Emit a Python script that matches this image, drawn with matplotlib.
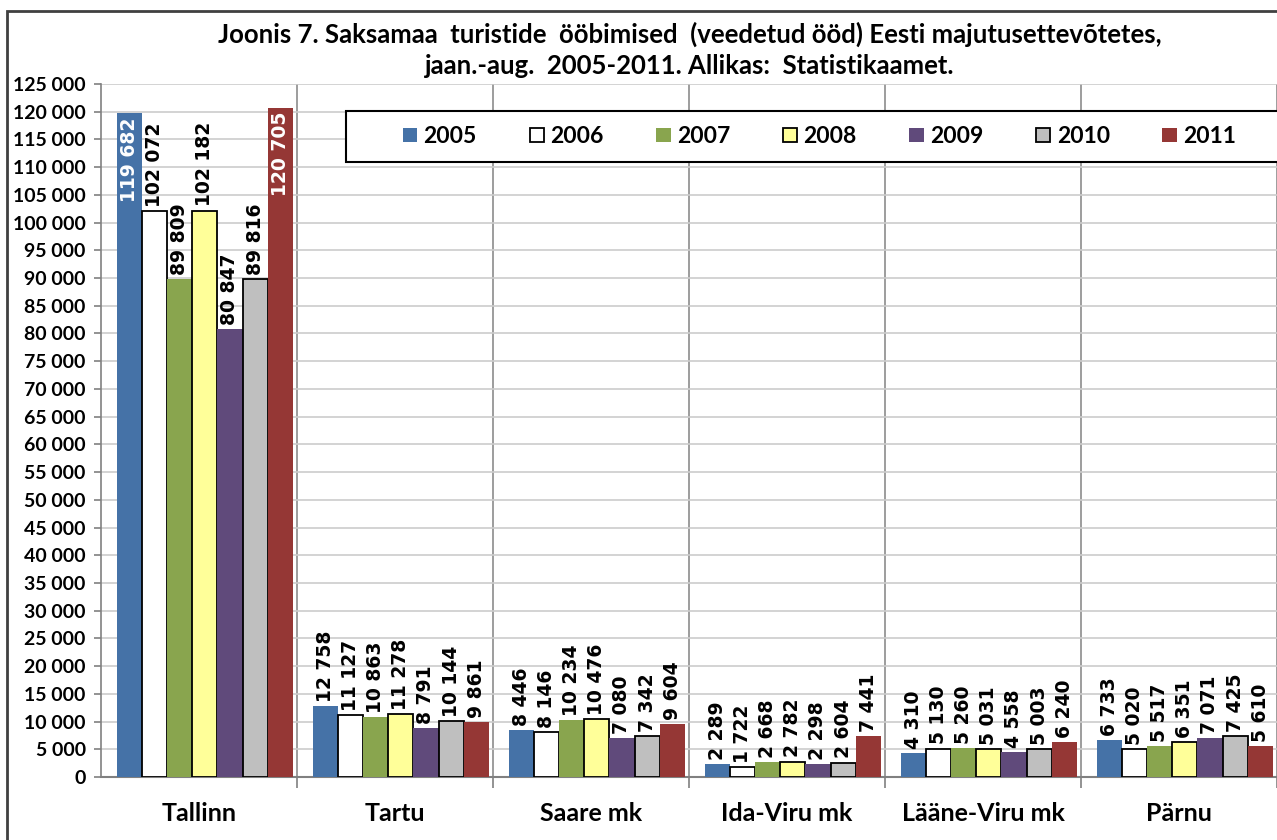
import numpy as np
import matplotlib.pyplot as plt
from matplotlib.patches import Rectangle
from matplotlib.ticker import FuncFormatter, FixedLocator

# data
regions = ['Tallinn', 'Tartu', 'Saare mk', 'Ida-Viru mk', 'Lääne-Viru mk', 'Pärnu']
years = ['2005', '2006', '2007', '2008', '2009', '2010', '2011']
y2005 = [119682, 12758, 8446, 2289, 4310, 6733]
y2006 = [102072, 11127, 8146, 1722, 5130, 5020]
y2007 = [89809, 10863, 10234, 2668, 5260, 5517]
y2008 = [102182, 11278, 10476, 2782, 5031, 6351]
y2009 = [80847, 8791, 7080, 2298, 4558, 7071]
y2010 = [89816, 10144, 7342, 2604, 5003, 7425]
y2011 = [120705, 9861, 9604, 7441, 6240, 5610]
series = [y2005, y2006, y2007, y2008, y2009, y2010, y2011]

colors = ['#4572A7', '#FFFFFF', '#89A54E', '#FFFF99', '#604A7B', '#BFBFBF', '#953735']
edges = [None, 'black', None, 'black', None, 'black', None]

def spaced(v, pos=None):
    return '{:,}'.format(int(v)).replace(',', ' ')

fig = plt.figure(figsize=(12.77, 8.4), dpi=100)
ax = fig.add_axes([101/1277, 1 - 777/840, 1176/1277, 693/840])

x = np.arange(len(regions))
w = 0.128
handles = []
for i, (vals, c, ec) in enumerate(zip(series, colors, edges)):
    xs = x + (i - 3) * w + 0.03
    if ec:
        b = ax.bar(xs, vals, w, color=c, edgecolor=ec, linewidth=1.3, zorder=3)
    else:
        b = ax.bar(xs, vals, w, color=c, linewidth=0, zorder=3)
    handles.append(b)
    for xx, v in zip(xs, vals):
        if v > 110000:
            # too tall to fit above: put the label inside the bar
            ax.annotate(spaced(v), (xx, v), xytext=(0, -3), textcoords='offset points',
                        rotation=90, ha='center', va='top', color='white',
                        fontsize=13.5, fontweight='bold', family='DejaVu Sans', zorder=4)
        else:
            ax.annotate(spaced(v), (xx, v), xytext=(0, 3), textcoords='offset points',
                        rotation=90, ha='center', va='bottom', color='black',
                        fontsize=13.5, fontweight='bold', family='DejaVu Sans', zorder=4)

ax.set_xlim(-0.5, 5.5)
ax.set_ylim(0, 125000)
ax.set_yticks(np.arange(0, 125001, 5000))
ax.yaxis.set_major_formatter(FuncFormatter(spaced))
ax.set_xticks(x)
ax.set_xticklabels(regions)
ax.xaxis.set_minor_locator(FixedLocator(np.arange(0.5, 5.6, 1)))
ax.tick_params(axis='x', which='major', length=0, pad=18, labelsize=18)
ax.tick_params(axis='x', which='minor', length=8, color='#808080', width=1.2)
ax.tick_params(axis='y', length=5, color='#808080', width=1.2, labelsize=14, pad=6)
for lab in ax.get_xticklabels() + ax.get_yticklabels():
    lab.set_fontweight('bold')
    lab.set_family('Lato')

ax.grid(axis='y', color='#CCCCCC', linewidth=1.2, zorder=0)
ax.grid(axis='x', which='minor', color='#8C8C8C', linewidth=1.2, zorder=0)
ax.spines['top'].set_visible(False)
ax.spines['right'].set_visible(False)
ax.spines['left'].set_color('#808080')
ax.spines['bottom'].set_color('#808080')
ax.spines['left'].set_linewidth(1.2)
ax.spines['bottom'].set_linewidth(1.5)
ax.set_axisbelow(True)

fig.text(690/1277, 1 - 34/840, 'Joonis 7. Saksamaa  turistide  ööbimised  (veedetud ööd) Eesti majutusettevõtetes,',
         ha='center', va='center', fontsize=18.5, fontweight='bold', family='Lato')
fig.text(690/1277, 1 - 66/840, 'jaan.-aug.  2005-2011. Allikas:  Statistikaamet.',
         ha='center', va='center', fontsize=18.5, fontweight='bold', family='Lato')

# outer chart frame
fig.patches.append(Rectangle((7/1277, -0.1), 1.2, 1 - 11/840 + 0.1, transform=fig.transFigure,
                             fill=False, edgecolor='#404040', linewidth=2))

# legend box runs off the right edge
fig.patches.append(Rectangle((346/1277, 1 - 162/840), 1.0, 51/840, transform=fig.transFigure,
                             fill=True, facecolor='white', edgecolor='black', linewidth=1.5, zorder=5))
leg = fig.legend(handles, years, loc='center left', bbox_to_anchor=(403/1277, 1 - 136.5/840),
                 ncol=7, frameon=False,
                 prop={'family': 'Lato', 'weight': 'bold', 'size': 16.5},
                 handlelength=0.62, handleheight=0.62, handletextpad=0.28,
                 columnspacing=2.3, borderpad=0, borderaxespad=0)
leg.set_zorder(6)

plt.savefig('out.png', dpi=100)
